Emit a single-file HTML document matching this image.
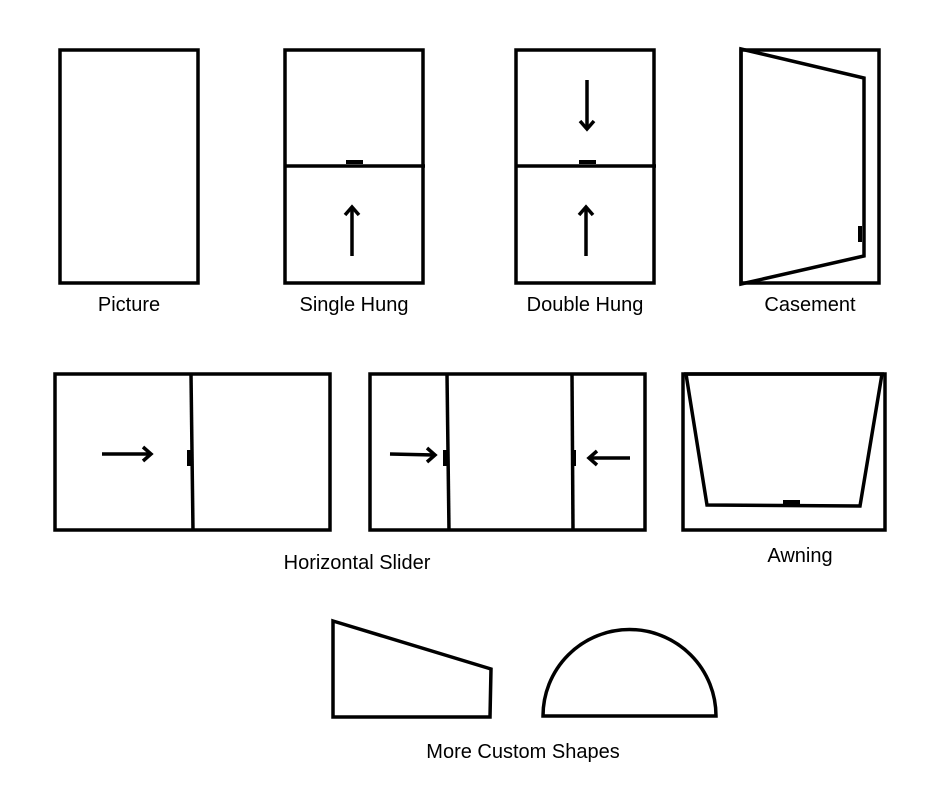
<!DOCTYPE html>
<html><head><style>body{margin:0;background:#fff}svg{display:block}</style></head><body>
<svg width="940" height="788" viewBox="0 0 940 788" xmlns="http://www.w3.org/2000/svg">
<g fill="none" stroke="#000" stroke-width="3.5" stroke-linejoin="miter">
<rect x="60" y="50" width="138" height="233"/>
<rect x="285" y="50" width="138" height="233"/>
<line x1="285" y1="166" x2="425" y2="166"/>
<line x1="352" y1="256" x2="352" y2="208"/>
<polyline points="345,215 352,207 359,215"/>
<rect x="516" y="50" width="138" height="233"/>
<line x1="516" y1="166" x2="656" y2="166"/>
<line x1="587" y1="80" x2="587" y2="128"/>
<polyline points="580,121 587,129 594,121"/>
<line x1="586" y1="256" x2="586" y2="208"/>
<polyline points="579,215 586,207 593,215"/>
<rect x="741" y="50" width="138" height="233"/>
<polygon points="741,49 864,78 864,256 741,284"/>
<rect x="55" y="374" width="275" height="156"/>
<line x1="191" y1="374" x2="193" y2="531"/>
<line x1="102" y1="454" x2="150" y2="454"/>
<polyline points="143,447 151,454 143,461"/>
<rect x="370" y="374" width="275" height="156"/>
<line x1="447" y1="374" x2="449" y2="531"/>
<line x1="572" y1="374" x2="573" y2="531"/>
<line x1="390" y1="454" x2="434" y2="455"/>
<polyline points="427,448 435,455 427,462"/>
<line x1="630" y1="458" x2="590" y2="458"/>
<polyline points="597,451 589,458 597,465"/>
<rect x="683" y="374" width="202" height="156"/>
<polygon points="686,374 707,505 860,506 882,374"/>
<polygon points="333,621 491,669 490,717 333,717"/>
<path d="M543,716 A86.5,86.5 0 0 1 716,716 Z"/>
</g>
<g fill="#000">
<rect x="346" y="160" width="17" height="4"/>
<rect x="579" y="160" width="17" height="4"/>
<rect x="858" y="226" width="4" height="16"/>
<rect x="187" y="450" width="4" height="16"/>
<rect x="443" y="450" width="4" height="16"/>
<rect x="572" y="450" width="4" height="16"/>
<rect x="783" y="500" width="17" height="4"/>
</g>
<g font-family="Liberation Sans, DejaVu Sans, sans-serif" font-size="20" text-anchor="middle" fill="#000">
<text x="129" y="311">Picture</text>
<text x="354" y="311">Single Hung</text>
<text x="585" y="311">Double Hung</text>
<text x="810" y="311">Casement</text>
<text x="357" y="569">Horizontal Slider</text>
<text x="800" y="562">Awning</text>
<text x="523" y="758">More Custom Shapes</text>
</g>
</svg>
</body></html>
